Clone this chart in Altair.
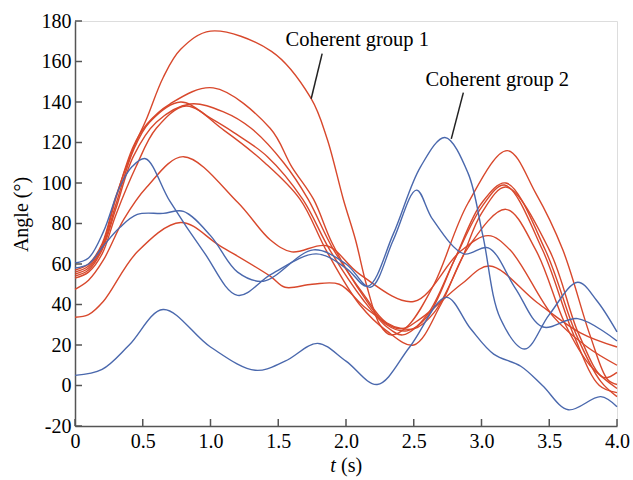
import altair as alt
import pandas as pd

# ---------------- data ----------------
# Red lines (coherent group 1)
r1_t = [0, 0.1, 0.2, 0.3, 0.43, 0.53, 0.65, 0.78, 1.0, 1.45, 1.74, 1.86, 1.98, 2.07, 2.15, 2.25, 2.33, 2.45, 2.65, 2.9, 3.19, 3.4, 3.6, 3.8, 3.93, 4.0]
r1_y = [57, 60, 70, 93, 117, 132, 152, 166, 175, 165, 142, 122, 92, 72, 50, 30, 25, 29, 50, 90, 116, 95, 67, 25, 3, 0.5]

r2_t = [0, 0.1, 0.2, 0.3, 0.43, 0.53, 0.7, 1.02, 1.44, 1.6, 1.76, 1.9, 2.13, 2.3, 2.45, 2.6, 2.8, 3.0, 3.18, 3.47, 3.7, 3.88, 4.0]
r2_y = [56, 59, 69, 92, 118, 129, 139, 147, 127, 108, 92, 70, 44, 30, 27, 34, 62, 90, 100, 67, 25, 2, -5.5]

r3_t = [0, 0.1, 0.2, 0.3, 0.43, 0.55, 0.78, 1.0, 1.17, 1.42, 1.68, 1.88, 2.13, 2.3, 2.42, 2.6, 2.8, 3.0, 3.17, 3.45, 3.68, 3.87, 4.0]
r3_y = [55, 58, 68, 89, 116, 130, 140, 132, 125, 113, 92, 67, 42, 29, 25, 35, 62, 88, 99, 67, 25, 0, -3.5]

r4_t = [0, 0.1, 0.2, 0.3, 0.43, 0.6, 0.85, 1.1, 1.3, 1.54, 1.72, 1.9, 2.13, 2.3, 2.5, 2.65, 2.85, 3.0, 3.18, 3.5, 3.72, 3.9, 4.0]
r4_y = [54, 57, 67, 87, 113, 130, 139, 135, 127, 110, 92, 68, 45, 31, 28, 36, 62, 85, 98, 67, 25, 4, 6.5]

r5_t = [0, 0.1, 0.21, 0.36, 0.53, 0.8, 1.2, 1.44, 1.6, 1.86, 2.1, 2.5, 2.84, 3.05, 3.21, 3.53, 3.78, 4.0]
r5_y = [47.5, 52, 62, 82, 98, 113, 90.5, 72, 66, 69, 55, 41.5, 66, 74, 67, 34, 19, 10]

r6_t = [0, 0.1, 0.21, 0.46, 0.78, 1.07, 1.44, 1.55, 1.75, 1.95, 2.15, 2.4, 2.55, 2.85, 3.06, 3.41, 3.73, 4.0]
r6_y = [33.7, 35, 41.6, 66, 80.5, 69, 54, 48.5, 50, 50, 38, 28, 33, 50, 59, 41, 26, 19]

r7_t = [0, 0.1, 0.2, 0.3, 0.45, 0.6, 0.82, 1.1, 1.4, 1.66, 1.86, 2.1, 2.3, 2.5, 2.7, 2.9, 3.18, 3.4, 3.62, 3.8, 4.0]
r7_y = [53, 56, 65, 84, 108, 127, 138, 126, 110, 92, 66, 40, 27, 20, 40, 68, 87, 67, 30, 10, -1.5]

# Blue lines (coherent group 2)
b1_t = [0, 0.2, 0.4, 0.65, 1.0, 1.33, 1.55, 1.79, 2.0, 2.23, 2.47, 2.74, 2.92, 3.09, 3.29, 3.45, 3.64, 3.88, 4.0]
b1_y = [5, 8, 20, 37.5, 19, 7.5, 12, 20.8, 12, 0.5, 19, 43.5, 28, 15.5, 9.5, 0, -12, -5.5, -10.5]

b2_t = [0, 0.1, 0.21, 0.33, 0.42, 0.52, 0.7, 0.95, 1.2, 1.45, 1.78, 2.0, 2.16, 2.35, 2.55, 2.73, 2.9, 3.01, 3.14, 3.32, 3.5, 3.71, 3.85, 4.0]
b2_y = [60.5, 63, 76, 98, 108, 112, 91, 66, 44.5, 55, 65, 58, 49, 75, 108, 122.5, 105, 74, 33, 18, 35, 51, 42, 26.5]

b3_t = [0, 0.1, 0.21, 0.33, 0.46, 0.65, 0.8, 1.0, 1.2, 1.39, 1.76, 2.0, 2.18, 2.35, 2.52, 2.64, 2.87, 3.05, 3.25, 3.45, 3.71, 4.0]
b3_y = [58, 60, 69, 78, 84.5, 85, 86, 74, 56, 51.5, 67, 60, 48.5, 72, 96.5, 82, 65, 68, 48, 29, 33, 22]

red_series = [r1_t, r1_y, r2_t, r2_y, r3_t, r3_y, r4_t, r4_y, r5_t, r5_y, r6_t, r6_y, r7_t, r7_y]
blue_series = [b1_t, b1_y, b2_t, b2_y, b3_t, b3_y]

x_ticks = [0, 0.5, 1.0, 1.5, 2.0, 2.5, 3.0, 3.5, 4.0]
y_ticks = [-20, 0, 20, 40, 60, 80, 100, 120, 140, 160, 180]

ann_text = ["Coherent group 1", "Coherent group 2"]
ann_t = [2.083, 3.117]
ann_y = [170.5, 151.0]
lead_t1 = [1.824, 2.866]
lead_y1 = [163.9, 144.6]
lead_t2 = [1.743, 2.777]
lead_y2 = [141.6, 121.8]

RED = "#d8482c"
BLUE = "#4a68ad"
FONT = "Liberation Serif"
AXIS_COLOR = "#555555"


def build(series, prefix):
    rows = []
    for i in range(0, len(series), 2):
        ts, ys = series[i], series[i + 1]
        for t, y in zip(ts, ys):
            rows.append({"t": t, "angle": y, "series": f"{prefix}{i // 2}"})
    return pd.DataFrame(rows)


red_df = build(red_series, "r")
blue_df = build(blue_series, "b")

xscale = alt.Scale(domain=[0, 4], nice=False, zero=False)
yscale = alt.Scale(domain=[-20, 180], nice=False, zero=False)

x_axis = alt.Axis(
    values=x_ticks, ticks=False, grid=False, domainColor=AXIS_COLOR, domainWidth=1.5,
    labelFont=FONT, labelFontSize=20, labelColor="black", labelPadding=5,
    labelExpr="datum.value == 0 ? '0' : format(datum.value, '.1f')", title=None,
    labelFlush=False, labelOverlap=False,
)
y_axis = alt.Axis(
    values=y_ticks, ticks=False, grid=False, domainColor=AXIS_COLOR, domainWidth=1.5,
    labelFont=FONT, labelFontSize=20, labelColor="black", labelPadding=4,
    labelExpr="'' + datum.value", title="Angle (°)", titleFont=FONT, titleFontSize=20,
    titleFontWeight="normal", titleColor="black", titleAngle=-90, titleX=-54, titleY=193,
    titleAlign="center", titleBaseline="middle", labelFlush=False, labelOverlap=False,
)

INTERP = "catmull-rom"

red_lines = alt.Chart(red_df).mark_line(interpolate=INTERP, strokeWidth=1.4, color=RED).encode(
    x=alt.X("t:Q", scale=xscale, axis=x_axis),
    y=alt.Y("angle:Q", scale=yscale, axis=y_axis),
    detail="series:N",
)
blue_lines = alt.Chart(blue_df).mark_line(interpolate=INTERP, strokeWidth=1.4, color=BLUE).encode(
    x=alt.X("t:Q", scale=xscale),
    y=alt.Y("angle:Q", scale=yscale),
    detail="series:N",
)

xt = alt.Chart(pd.DataFrame({"v": x_ticks})).mark_rule(color=AXIS_COLOR, strokeWidth=1.5).encode(
    x=alt.X("v:Q", scale=xscale), y=alt.value(405), y2=alt.value(398)
)
yt = alt.Chart(pd.DataFrame({"v": y_ticks})).mark_rule(color=AXIS_COLOR, strokeWidth=1.5).encode(
    y=alt.Y("v:Q", scale=yscale), x=alt.value(0), x2=alt.value(7)
)

ann_df = pd.DataFrame({"text": ann_text, "t": ann_t, "y": ann_y,
                       "t1": lead_t1, "y1": lead_y1, "t2": lead_t2, "y2": lead_y2})
leaders = alt.Chart(ann_df).mark_rule(color="#222222", strokeWidth=1.5).encode(
    x=alt.X("t1:Q", scale=xscale), y=alt.Y("y1:Q", scale=yscale),
    x2="t2:Q", y2="y2:Q",
)
ann = alt.Chart(ann_df).mark_text(font=FONT, fontSize=20.5, color="black", align="center",
                                  baseline="middle").encode(
    x=alt.X("t:Q", scale=xscale), y=alt.Y("y:Q", scale=yscale), text="text:N"
)

xt_t = alt.Chart(pd.DataFrame({"s": ["t"]})).mark_text(
    font=FONT, fontSize=20, fontStyle="italic", color="black", align="center", baseline="middle"
).encode(text="s:N", x=alt.value(258), y=alt.value(445))
xt_s = alt.Chart(pd.DataFrame({"s": ["(s)"]})).mark_text(
    font=FONT, fontSize=20, color="black", align="left", baseline="middle"
).encode(text="s:N", x=alt.value(266), y=alt.value(445))

chart = alt.layer(red_lines, blue_lines, xt, yt, leaders, ann, xt_t, xt_s).properties(
    width=542, height=405,
    padding={"left": 75, "top": 21, "right": 16, "bottom": 54},
    autosize=alt.AutoSizeParams(type="none"),
).configure_view(stroke=None).configure(background="white")

chart.save("out.html", embed_options={"renderer": "svg", "actions": False})
